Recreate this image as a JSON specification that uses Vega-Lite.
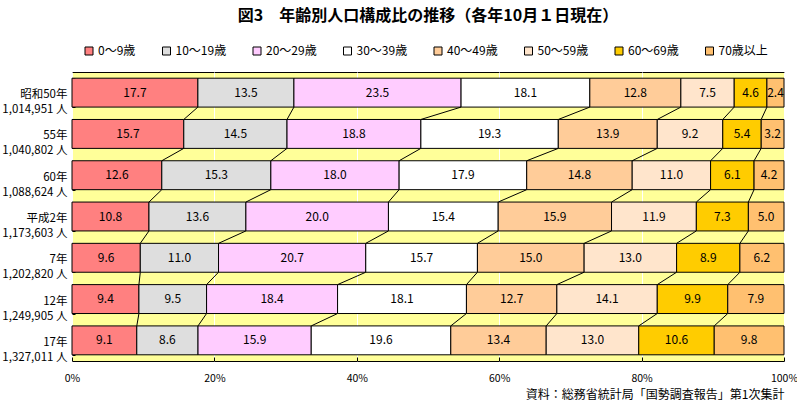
{
  "$schema": "https://vega.github.io/schema/vega-lite/v6.json",
  "autosize": {"type": "none"},
  "padding": {"left": 72, "top": 72, "right": 13, "bottom": 45},
  "width": 712,
  "height": 289,
  "background": "white",
  "title": {
    "text": "図3　年齢別人口構成比の推移（各年10月１日現在）",
    "font": "Noto Sans CJK JP",
    "fontSize": 16,
    "fontWeight": "bold",
    "color": "black",
    "anchor": "middle",
    "offset": 21
  },
  "config": {
    "view": {"fill": "#FFFF99", "stroke": "black", "strokeWidth": 1},
    "font": "Noto Sans CJK JP"
  },
  "datasets": {
    "pop": [
      {"year": "昭和50年\n1,014,951 人", "ad": 1975, "age": "0～9歳", "order": 0, "pct": 17.7},
      {"year": "昭和50年\n1,014,951 人", "ad": 1975, "age": "10～19歳", "order": 1, "pct": 13.5},
      {"year": "昭和50年\n1,014,951 人", "ad": 1975, "age": "20～29歳", "order": 2, "pct": 23.5},
      {"year": "昭和50年\n1,014,951 人", "ad": 1975, "age": "30～39歳", "order": 3, "pct": 18.1},
      {"year": "昭和50年\n1,014,951 人", "ad": 1975, "age": "40～49歳", "order": 4, "pct": 12.8},
      {"year": "昭和50年\n1,014,951 人", "ad": 1975, "age": "50～59歳", "order": 5, "pct": 7.5},
      {"year": "昭和50年\n1,014,951 人", "ad": 1975, "age": "60～69歳", "order": 6, "pct": 4.6},
      {"year": "昭和50年\n1,014,951 人", "ad": 1975, "age": "70歳以上", "order": 7, "pct": 2.4},
      {"year": "55年\n1,040,802 人", "ad": 1980, "age": "0～9歳", "order": 0, "pct": 15.7},
      {"year": "55年\n1,040,802 人", "ad": 1980, "age": "10～19歳", "order": 1, "pct": 14.5},
      {"year": "55年\n1,040,802 人", "ad": 1980, "age": "20～29歳", "order": 2, "pct": 18.8},
      {"year": "55年\n1,040,802 人", "ad": 1980, "age": "30～39歳", "order": 3, "pct": 19.3},
      {"year": "55年\n1,040,802 人", "ad": 1980, "age": "40～49歳", "order": 4, "pct": 13.9},
      {"year": "55年\n1,040,802 人", "ad": 1980, "age": "50～59歳", "order": 5, "pct": 9.2},
      {"year": "55年\n1,040,802 人", "ad": 1980, "age": "60～69歳", "order": 6, "pct": 5.4},
      {"year": "55年\n1,040,802 人", "ad": 1980, "age": "70歳以上", "order": 7, "pct": 3.2},
      {"year": "60年\n1,088,624 人", "ad": 1985, "age": "0～9歳", "order": 0, "pct": 12.6},
      {"year": "60年\n1,088,624 人", "ad": 1985, "age": "10～19歳", "order": 1, "pct": 15.3},
      {"year": "60年\n1,088,624 人", "ad": 1985, "age": "20～29歳", "order": 2, "pct": 18.0},
      {"year": "60年\n1,088,624 人", "ad": 1985, "age": "30～39歳", "order": 3, "pct": 17.9},
      {"year": "60年\n1,088,624 人", "ad": 1985, "age": "40～49歳", "order": 4, "pct": 14.8},
      {"year": "60年\n1,088,624 人", "ad": 1985, "age": "50～59歳", "order": 5, "pct": 11.0},
      {"year": "60年\n1,088,624 人", "ad": 1985, "age": "60～69歳", "order": 6, "pct": 6.1},
      {"year": "60年\n1,088,624 人", "ad": 1985, "age": "70歳以上", "order": 7, "pct": 4.2},
      {"year": "平成2年\n1,173,603 人", "ad": 1990, "age": "0～9歳", "order": 0, "pct": 10.8},
      {"year": "平成2年\n1,173,603 人", "ad": 1990, "age": "10～19歳", "order": 1, "pct": 13.6},
      {"year": "平成2年\n1,173,603 人", "ad": 1990, "age": "20～29歳", "order": 2, "pct": 20.0},
      {"year": "平成2年\n1,173,603 人", "ad": 1990, "age": "30～39歳", "order": 3, "pct": 15.4},
      {"year": "平成2年\n1,173,603 人", "ad": 1990, "age": "40～49歳", "order": 4, "pct": 15.9},
      {"year": "平成2年\n1,173,603 人", "ad": 1990, "age": "50～59歳", "order": 5, "pct": 11.9},
      {"year": "平成2年\n1,173,603 人", "ad": 1990, "age": "60～69歳", "order": 6, "pct": 7.3},
      {"year": "平成2年\n1,173,603 人", "ad": 1990, "age": "70歳以上", "order": 7, "pct": 5.0},
      {"year": "7年\n1,202,820 人", "ad": 1995, "age": "0～9歳", "order": 0, "pct": 9.6},
      {"year": "7年\n1,202,820 人", "ad": 1995, "age": "10～19歳", "order": 1, "pct": 11.0},
      {"year": "7年\n1,202,820 人", "ad": 1995, "age": "20～29歳", "order": 2, "pct": 20.7},
      {"year": "7年\n1,202,820 人", "ad": 1995, "age": "30～39歳", "order": 3, "pct": 15.7},
      {"year": "7年\n1,202,820 人", "ad": 1995, "age": "40～49歳", "order": 4, "pct": 15.0},
      {"year": "7年\n1,202,820 人", "ad": 1995, "age": "50～59歳", "order": 5, "pct": 13.0},
      {"year": "7年\n1,202,820 人", "ad": 1995, "age": "60～69歳", "order": 6, "pct": 8.9},
      {"year": "7年\n1,202,820 人", "ad": 1995, "age": "70歳以上", "order": 7, "pct": 6.2},
      {"year": "12年\n1,249,905 人", "ad": 2000, "age": "0～9歳", "order": 0, "pct": 9.4},
      {"year": "12年\n1,249,905 人", "ad": 2000, "age": "10～19歳", "order": 1, "pct": 9.5},
      {"year": "12年\n1,249,905 人", "ad": 2000, "age": "20～29歳", "order": 2, "pct": 18.4},
      {"year": "12年\n1,249,905 人", "ad": 2000, "age": "30～39歳", "order": 3, "pct": 18.1},
      {"year": "12年\n1,249,905 人", "ad": 2000, "age": "40～49歳", "order": 4, "pct": 12.7},
      {"year": "12年\n1,249,905 人", "ad": 2000, "age": "50～59歳", "order": 5, "pct": 14.1},
      {"year": "12年\n1,249,905 人", "ad": 2000, "age": "60～69歳", "order": 6, "pct": 9.9},
      {"year": "12年\n1,249,905 人", "ad": 2000, "age": "70歳以上", "order": 7, "pct": 7.9},
      {"year": "17年\n1,327,011 人", "ad": 2005, "age": "0～9歳", "order": 0, "pct": 9.1},
      {"year": "17年\n1,327,011 人", "ad": 2005, "age": "10～19歳", "order": 1, "pct": 8.6},
      {"year": "17年\n1,327,011 人", "ad": 2005, "age": "20～29歳", "order": 2, "pct": 15.9},
      {"year": "17年\n1,327,011 人", "ad": 2005, "age": "30～39歳", "order": 3, "pct": 19.6},
      {"year": "17年\n1,327,011 人", "ad": 2005, "age": "40～49歳", "order": 4, "pct": 13.4},
      {"year": "17年\n1,327,011 人", "ad": 2005, "age": "50～59歳", "order": 5, "pct": 13.0},
      {"year": "17年\n1,327,011 人", "ad": 2005, "age": "60～69歳", "order": 6, "pct": 10.6},
      {"year": "17年\n1,327,011 人", "ad": 2005, "age": "70歳以上", "order": 7, "pct": 9.8}
    ]
  },
  "data": {"name": "pop"},
  "encoding": {
    "y": {
      "field": "year",
      "type": "nominal",
      "sort": ["昭和50年\n1,014,951 人", "55年\n1,040,802 人", "60年\n1,088,624 人", "平成2年\n1,173,603 人", "7年\n1,202,820 人", "12年\n1,249,905 人", "17年\n1,327,011 人"],
      "scale": {"paddingInner": 0.3, "paddingOuter": 0.15},
      "axis": {
        "title": null,
        "domain": false,
        "ticks": true,
        "tickBand": "extent",
        "tickSize": -3,
        "tickColor": "black",
        "labelPadding": 8,
        "labelExpr": "split(datum.label, '\\n')",
        "labelFont": "Noto Sans CJK JP",
        "labelFontSize": 11.5,
        "labelColor": "black",
        "labelLineHeight": 15,
        "labelOffset": 2
      }
    }
  },
  "layer": [
    {
      "mark": {"type": "bar", "stroke": "black", "strokeWidth": 1},
      "encoding": {
        "x": {
          "field": "pct",
          "type": "quantitative",
          "stack": "normalize",
          "scale": {"domain": [0, 1], "nice": false},
          "axis": {
            "values": [0, 0.2, 0.4, 0.6, 0.8, 1],
            "format": ".0%",
            "grid": true,
            "gridColor": "white",
            "gridWidth": 1,
            "gridOpacity": 1,
            "domain": false,
            "ticks": true,
            "tickSize": -4,
            "tickColor": "black",
            "labelPadding": 16,
            "labelFont": "Noto Sans CJK JP",
            "labelFontSize": 10.5,
            "labelColor": "black",
            "labelFlush": false,
            "title": "資料：総務省統計局「国勢調査報告」第1次集計",
            "titleAnchor": "end",
            "titleFont": "Noto Sans CJK JP",
            "titleFontSize": 12,
            "titleFontWeight": "normal",
            "titleColor": "black",
            "titlePadding": 6
          }
        },
        "order": {"field": "order", "type": "quantitative"},
        "color": {
          "field": "age",
          "type": "nominal",
          "sort": ["0～9歳", "10～19歳", "20～29歳", "30～39歳", "40～49歳", "50～59歳", "60～69歳", "70歳以上"],
          "scale": {
            "domain": ["0～9歳", "10～19歳", "20～29歳", "30～39歳", "40～49歳", "50～59歳", "60～69歳", "70歳以上"],
            "range": ["#FF8080", "#DEDEDE", "#FFCCFF", "#FFFFFF", "#FFCC99", "#FFE5CC", "#FFCC00", "#FFC070"]
          },
          "legend": {
            "title": null,
            "orient": "none",
            "direction": "horizontal",
            "legendX": 11,
            "legendY": -27,
            "symbolType": "square",
            "symbolSize": 64,
            "symbolStrokeColor": "black",
            "symbolStrokeWidth": 1,
            "symbolOpacity": 1,
            "labelFont": "Noto Sans CJK JP",
            "labelFontSize": 12,
            "labelColor": "black",
            "labelOffset": 3,
            "columnPadding": 24.5
          }
        }
      }
    },
    {
      "mark": {"type": "text", "fontSize": 12, "font": "Noto Sans CJK JP", "color": "black"},
      "encoding": {
        "x": {"field": "pct", "type": "quantitative", "stack": "normalize", "bandPosition": 0.5},
        "order": {"field": "order", "type": "quantitative"},
        "text": {"field": "pct", "type": "quantitative", "format": ".1f"}
      }
    },
    {
      "transform": [
        {"stack": "pct", "groupby": ["year"], "sort": [{"field": "order"}], "offset": "normalize", "as": ["s0", "s1"]},
        {"window": [{"op": "lead", "field": "s1", "as": "n1"}, {"op": "lead", "field": "year", "as": "nyear"}], "groupby": ["age"], "sort": [{"field": "ad"}]},
        {"filter": "datum.nyear != null && datum.order < 7"}
      ],
      "mark": {"type": "rule", "color": "black", "strokeWidth": 1},
      "encoding": {
        "x": {"field": "s1", "type": "quantitative"},
        "x2": {"field": "n1"},
        "y": {"field": "year", "type": "nominal", "bandPosition": 1},
        "y2": {"field": "nyear", "bandPosition": 0}
      }
    }
  ]
}
